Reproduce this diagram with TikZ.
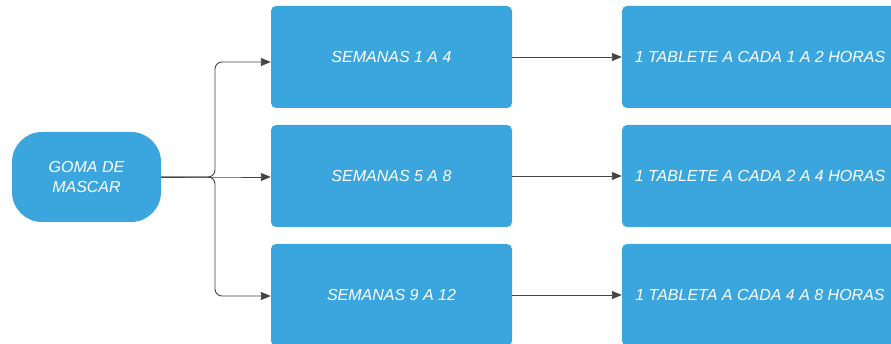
\documentclass[tikz,border=0pt]{standalone}
\usepackage{fontspec}
\setmainfont{Liberation Sans}
\usetikzlibrary{arrows.meta}
\definecolor{boxblue}{HTML}{3AA6DD}
\definecolor{linegray}{HTML}{444444}
\tikzset{
  stepbox/.style={fill=boxblue, draw=none, rounded corners=5pt, text=white,
    font=\fontsize{16}{20}\selectfont\itshape, align=center, inner sep=0pt},
  startbox/.style={stepbox, rounded corners=30pt},
  conn/.style={draw=linegray, line width=0.9pt,
    -{Triangle[length=10pt,width=8pt]}},
}
\begin{document}
\begin{tikzpicture}[x=1pt,y=-1pt]
  \useasboundingbox (0,0) rectangle (891,344);

  % start node
  \node[startbox, minimum width=149pt, minimum height=90pt] (goma) at (86.5,177)
    {GOMA DE\\MASCAR};

  % period boxes
  \node[stepbox, minimum width=241pt, minimum height=102pt] (m1) at (391.5,57) {SEMANAS 1 A 4};
  \node[stepbox, minimum width=241pt, minimum height=102pt] (m2) at (391.5,176) {SEMANAS 5 A 8};
  \node[stepbox, minimum width=241pt, minimum height=102pt] (m3) at (391.5,295) {SEMANAS 9 A 12};

  % dosage boxes
  \node[stepbox, minimum width=276pt, minimum height=102pt] (r1) at (760,57) {1 TABLETE A CADA 1 A 2 HORAS};
  \node[stepbox, minimum width=276pt, minimum height=102pt] (r2) at (760,176) {1 TABLETE A CADA 2 A 4 HORAS};
  \node[stepbox, minimum width=276pt, minimum height=102pt] (r3) at (760,295) {1 TABLETA A CADA 4 A 8 HORAS};

  % branching connectors
  \coordinate (j) at (215,177);
  \draw[conn, rounded corners=7pt] (goma.east) -- (j) |- ([yshift=-5pt]m1.west);
  \draw[conn, rounded corners=7pt] (goma.east) -- (j) -- (m2.west |- j);
  \draw[conn, rounded corners=7pt] (goma.east) -- (j) |- ([yshift=-1pt]m3.west);

  % period to dosage
  \draw[conn] (m1.east) -- (r1.west);
  \draw[conn] (m2.east) -- (r2.west);
  \draw[conn] (m3.east) -- (r3.west);
\end{tikzpicture}
\end{document}
